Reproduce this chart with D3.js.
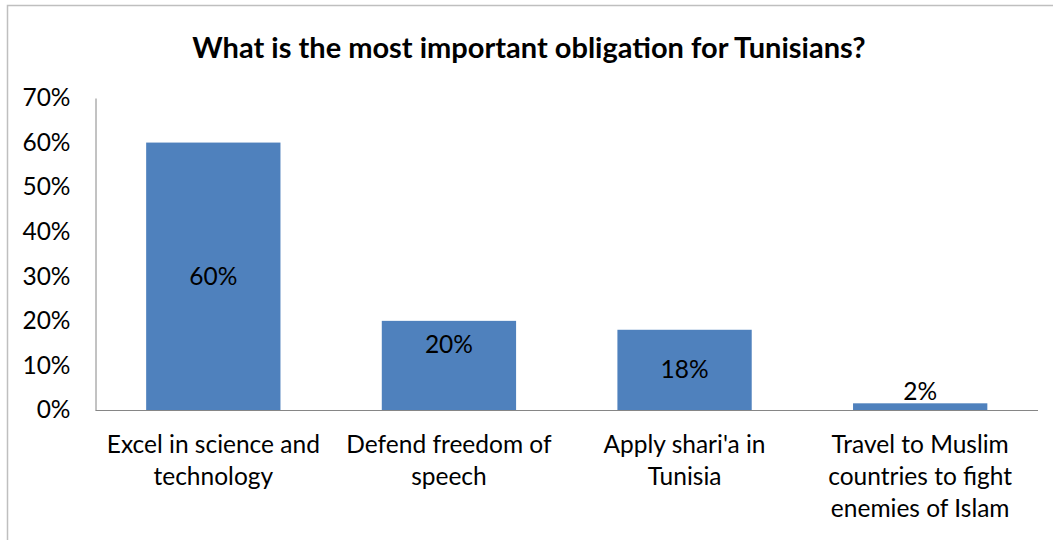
<!DOCTYPE html>
<html>
<head>
<meta charset="utf-8">
<script src="https://cdn.jsdelivr.net/npm/d3@7"></script>
<style>
  body { margin: 0; background: #fff; }
  svg { display: block; font-family: Lato, "Open Sans", sans-serif; }
</style>
</head>
<body>
<svg id="chart" width="1053" height="540"></svg>
<script>
const title = "What is the most important obligation for Tunisians?";
const categories = [
  ["Excel in science and", "technology"],
  ["Defend freedom of", "speech"],
  ["Apply shari'a in", "Tunisia"],
  ["Travel to Muslim", "countries to fight", "enemies of Islam"]
];
const values = [0.60, 0.20, 0.18, 0.015];
const valueLabels = ["60%", "20%", "18%", "2%"];
const labelModes = ["center", "top", "center", "outside"];
const yTicks = [0, 0.1, 0.2, 0.3, 0.4, 0.5, 0.6, 0.7];

const svg = d3.select("#chart");
const margin = {left: 95.5, right: 15, top: 98, bottom: 130};
const width = 1053, height = 540;
const fontSize = 24.5;

// frame (only top and left visible in the original crop)
svg.append("path")
  .attr("d", `M7.5,${height} V5.5 H${width}`)
  .attr("fill", "none")
  .attr("stroke", "#bfbfbf")
  .attr("stroke-width", 1.5);

svg.append("text")
  .attr("x", 529)
  .attr("y", 58)
  .attr("text-anchor", "middle")
  .attr("font-size", 29)
  .attr("font-weight", "bold")
  .attr("fill", "#000")
  .text(title);

const x = d3.scaleBand()
  .domain(d3.range(values.length))
  .range([margin.left, width - margin.right])
  .paddingInner(0.43)
  .paddingOuter(0.215);

const y = d3.scaleLinear()
  .domain([0, 0.7])
  .range([410, margin.top]);

// y axis
const yAxis = svg.append("g")
  .attr("transform", `translate(${margin.left},0)`)
  .call(d3.axisLeft(y).tickValues(yTicks).tickFormat(d3.format(".0%")).tickSize(0).tickPadding(25));
yAxis.select(".domain").attr("stroke", "#868686");
yAxis.selectAll("text")
  .attr("font-family", "Lato, 'Open Sans', sans-serif")
  .attr("font-size", fontSize)
  .attr("fill", "#000");

// bars
svg.append("g")
  .selectAll("rect")
  .data(values)
  .join("rect")
  .attr("x", (d, i) => x(i))
  .attr("width", x.bandwidth())
  .attr("y", d => y(d))
  .attr("height", d => y(0) - y(d))
  .attr("fill", "#4f81bd");

// x baseline
svg.append("line")
  .attr("x1", margin.left)
  .attr("x2", width - margin.right)
  .attr("y1", y(0) + 0.5)
  .attr("y2", y(0) + 0.5)
  .attr("stroke", "#868686");

// value labels
svg.append("g")
  .selectAll("text")
  .data(values)
  .join("text")
  .attr("x", (d, i) => x(i) + x.bandwidth() / 2)
  .attr("y", (d, i) => {
    const mode = labelModes[i];
    if (mode === "top") return y(d) + 24;
    if (mode === "outside") return y(d) - 12;
    return (y(d) + y(0)) / 2;
  })
  .attr("dy", "0.35em")
  .attr("text-anchor", "middle")
  .attr("font-size", fontSize)
  .attr("fill", "#000")
  .text((d, i) => valueLabels[i]);

// category labels
const cat = svg.append("g")
  .selectAll("text")
  .data(categories)
  .join("text")
  .attr("text-anchor", "middle")
  .attr("font-size", fontSize)
  .attr("fill", "#000");
cat.selectAll("tspan")
  .data((d, i) => d.map(line => ({line, i})))
  .join("tspan")
  .attr("x", d => x(d.i) + x.bandwidth() / 2)
  .attr("y", (d, j) => 453 + j * 32)
  .text(d => d.line);
</script>
</body>
</html>
